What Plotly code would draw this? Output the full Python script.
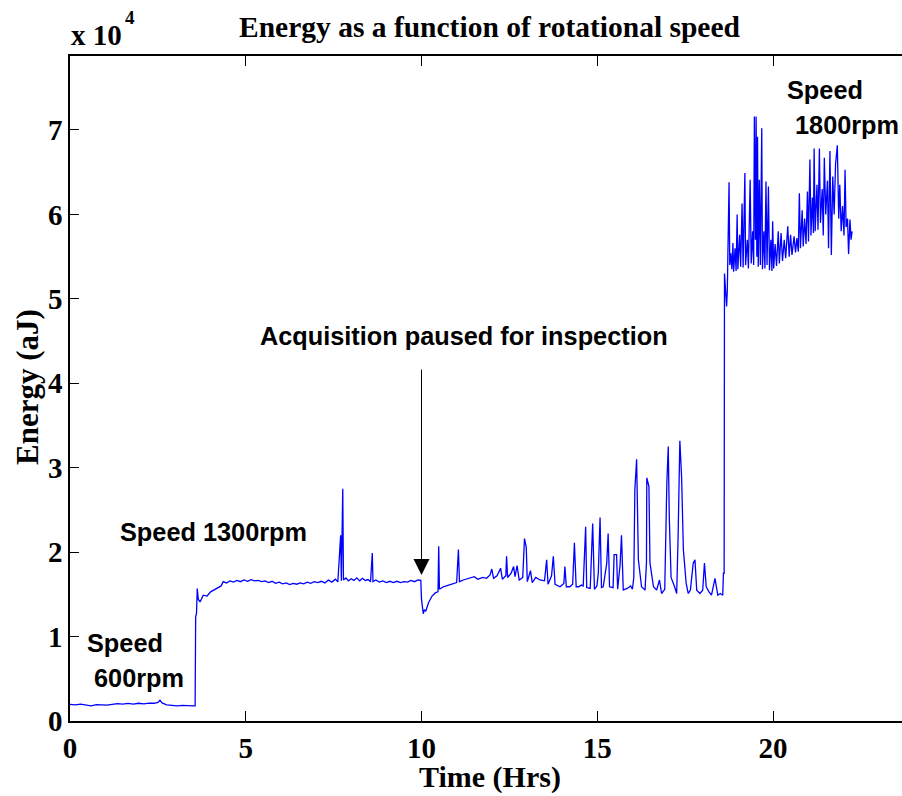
import plotly.graph_objects as go

# ---------------- data ----------------
time_hrs = [
    # 600 rpm
    0.0, 0.15, 0.3, 0.45, 0.6, 0.75, 0.9, 1.05, 1.2, 1.35, 1.5, 1.65, 1.8, 1.95,
    2.1, 2.25, 2.4, 2.5, 2.56, 2.62, 2.75, 2.9, 3.05, 3.2, 3.35, 3.5, 3.56,
    # 1300 rpm
    3.575, 3.6, 3.62, 3.65, 3.7, 3.79, 3.9, 4.0, 4.17, 4.3,
    4.36, 4.45, 4.55, 4.65, 4.75, 4.85, 4.95, 5.05, 5.15, 5.25, 5.35, 5.45, 5.55,
    5.65, 5.75, 5.85, 5.95, 6.05, 6.15, 6.25, 6.35, 6.45, 6.55, 6.65, 6.75, 6.85,
    6.95, 7.05, 7.15, 7.25, 7.35, 7.45, 7.55, 7.62,
    7.7, 7.72, 7.76, 7.78, 7.85,
    7.92, 8.0, 8.08, 8.16, 8.24, 8.32, 8.4, 8.48, 8.55, 8.6, 8.62, 8.7, 8.8, 8.9,
    9.0, 9.1, 9.2, 9.3, 9.4, 9.5, 9.6, 9.7, 9.8, 9.9, 9.98,
    # after inspection pause
    10.0, 10.05, 10.08, 10.12, 10.2, 10.3, 10.4, 10.47, 10.49, 10.51, 10.62,
    10.75, 10.9, 11.0, 11.05, 11.08, 11.19, 11.35, 11.5, 11.6, 11.75, 11.85,
    11.95, 12.0, 12.05, 12.15, 12.25, 12.3, 12.4, 12.42, 12.45, 12.55, 12.62,
    12.66, 12.72, 12.78, 12.88, 12.93, 12.98, 13.01, 13.1, 13.15, 13.25, 13.37,
    13.5, 13.56, 13.6, 13.7, 13.75, 13.8, 13.94, 14.05, 14.08, 14.12, 14.22,
    14.3, 14.35, 14.4, 14.47, 14.55, 14.6, 14.67, 14.7, 14.8, 14.87, 14.92,
    14.99, 15.03, 15.08, 15.12, 15.17, 15.27, 15.31, 15.35, 15.45, 15.48, 15.55,
    15.58, 15.65, 15.69, 15.74, 15.85, 15.95, 16.0, 16.04, 16.07, 16.12, 16.17,
    16.26, 16.36, 16.4, 16.41, 16.47, 16.5, 16.6, 16.69, 16.77, 16.83, 16.92,
    16.98, 17.02, 17.05, 17.1, 17.2, 17.26, 17.3, 17.35, 17.4, 17.45, 17.53,
    17.59, 17.65, 17.73, 17.78, 17.83, 17.92, 18.0, 18.05, 18.1, 18.18, 18.25,
    18.35, 18.43, 18.5, 18.57, 18.59, 18.61,
    # 1800 rpm
    18.62, 18.65, 18.68, 18.7, 18.72, 18.75, 18.77, 18.8, 18.83, 18.86, 18.88,
    18.92, 18.95, 18.98, 19.0, 19.05, 19.08, 19.12, 19.15, 19.2, 19.22, 19.27,
    19.3, 19.35, 19.38, 19.42, 19.45, 19.47, 19.5, 19.52, 19.54, 19.56, 19.58,
    19.61, 19.64, 19.68, 19.7, 19.74, 19.77, 19.8, 19.83, 19.87, 19.9, 19.94,
    19.97, 19.99, 20.02, 20.06, 20.1, 20.15, 20.18, 20.23, 20.27, 20.32, 20.36,
    20.42, 20.46, 20.5, 20.54, 20.6, 20.64, 20.68, 20.72, 20.75, 20.78, 20.83,
    20.86, 20.9, 20.94, 20.98, 21.01, 21.05, 21.08, 21.12, 21.15, 21.17, 21.2,
    21.25, 21.28, 21.32, 21.35, 21.4, 21.43, 21.46, 21.5, 21.55, 21.58, 21.62,
    21.66, 21.7, 21.74, 21.78, 21.83, 21.87, 21.9, 21.94, 21.98, 22.02, 22.05,
    22.08, 22.12, 22.15, 22.19, 22.22, 22.25,
]

energy_aj = [
    # 600 rpm
    1980, 1900, 2000, 1880, 1800, 1950, 1920, 1870, 1960, 2050, 2000, 2080, 2010, 2100,
    2040, 2120, 2100, 2200, 2450, 2150, 1900, 1820, 1800, 1850, 1780, 1790, 1790,
    # 1300 rpm
    12300, 12800, 15700, 14400, 14100, 14900, 14800, 15300, 15700, 16000,
    16500, 16350, 16600, 16450, 16650, 16500, 16700, 16550, 16750, 16600, 16650, 16500, 16600,
    16400, 16550, 16300, 16450, 16250, 16350, 16150, 16300, 16200, 16350, 16250, 16450, 16300,
    16500, 16400, 16550, 16350, 16700, 16450, 16800, 16500,
    22000, 16600, 27500, 16700, 16950,
    16600, 16850, 16650, 16950, 16600, 16900, 16650, 16750, 16500, 19900, 16500, 16700, 16450, 16600,
    16400, 16550, 16400, 16550, 16400, 16500, 16450, 16650, 16500, 16700, 16650,
    # after inspection pause
    14400, 12700, 13200, 13000, 14000, 14800, 15200, 15300, 20700, 15600, 15900,
    16100, 16300, 16400, 20300, 16500, 16700, 16900, 17100, 16800, 17000, 16900,
    17300, 18000, 16900, 17200, 18100, 16800, 17200, 19500, 17000, 17500, 18300,
    17100, 18400, 16700, 17000, 21600, 20600, 16500, 17800, 16400, 17000, 16700,
    16600, 19100, 16200, 17200, 19500, 16200, 15900, 16300, 18300, 15900, 15900,
    16200, 21100, 15900, 15900, 16100, 16000, 23000, 15800, 15700, 23400, 15600,
    16000, 17500, 24100, 15800, 15900, 18700, 22200, 15900, 15800, 19700, 19700,
    15600, 18500, 22000, 15500, 15700, 16000, 15600, 17000, 27400, 31000, 19100,
    15900, 15500, 18700, 28800, 27800, 18700, 15900, 15500, 16700, 15100, 15600,
    28200, 32500, 24000, 17000, 15900, 15100, 21800, 33200, 28900, 20300, 16300,
    15100, 15500, 18700, 19100, 15500, 15100, 15500, 18700, 15900, 15300, 14900,
    16900, 14900, 15100, 14900, 17500, 17500,
    # 1800 rpm
    53000, 50300, 49100, 51000, 54600, 63800, 54000, 55400, 53500, 56600, 53200,
    56000, 53300, 60000, 53500, 57600, 53800, 61300, 53700, 64900, 54000, 57000,
    53600, 64100, 54200, 58000, 54000, 71600, 57000, 71600, 55000, 69200, 53800,
    64100, 54000, 70200, 53500, 58000, 53600, 63900, 54000, 63300, 53400, 57000,
    53300, 59200, 53600, 56500, 53900, 58000, 54200, 57800, 54500, 57000, 54800,
    58600, 55000, 57600, 55200, 57400, 55500, 57200, 55600, 62500, 56000, 60500,
    56200, 59500, 56500, 62700, 56800, 66500, 57500, 62000, 57800, 67800, 58000,
    63500, 58200, 67800, 59000, 63000, 57500, 66700, 60000, 64000, 56000, 67500,
    55200, 64500, 60000, 66000, 68200, 59500, 63500, 58000, 61000, 57500, 65300,
    58500, 59500, 55300, 59400, 57000, 58000,
]
assert len(time_hrs) == len(energy_aj)

x_ticks = [0, 5, 10, 15, 20]
y_ticks = [0, 10000, 20000, 30000, 40000, 50000, 60000, 70000]
y_tick_text = ["0", "1", "2", "3", "4", "5", "6", "7"]

title_text = "Energy as a function of rotational speed"
x_title = "Time (Hrs)"
y_title = "Energy (aJ)"

# ---------------- layout helpers (pixel placement) ----------------
W, H = 902, 796
L, R, T, B = 70, 0, 56, 75
PW, PH = W - L - R, H - T - B


def px(xr):
    return (xr - L) / PW


def py(yr):
    return (H - B - yr) / PH


SERIF = "Liberation Serif, Times New Roman, serif"
SANS = "Liberation Sans, Arial, sans-serif"

fig = go.Figure()
fig.add_trace(go.Scatter(
    x=time_hrs, y=energy_aj, mode="lines",
    line=dict(color="#0000FF", width=1.3),
    showlegend=False, hoverinfo="skip",
))

anns = []
anns.append(dict(text="<b>" + title_text + "</b>", x=px(490), y=py(27),
                 font=dict(family=SERIF, size=29.5, color="black")))
anns.append(dict(text="<b>x 10</b>", x=px(69), y=py(35), xanchor="left",
                 font=dict(family=SERIF, size=29, color="black")))
anns.append(dict(text="<b>4</b>", x=px(130), y=py(17),
                 font=dict(family=SERIF, size=19, color="black")))
anns.append(dict(text="<b>" + x_title + "</b>", x=px(490), y=py(777),
                 font=dict(family=SERIF, size=30, color="black")))
anns.append(dict(text="<b>" + y_title + "</b>", x=px(27), y=py(387), textangle=-90,
                 font=dict(family=SERIF, size=31, color="black")))
for txt, xl, yc in [("Speed", 85, 643), ("600rpm", 92, 678),
                    ("Speed 1300rpm", 118, 532),
                    ("Speed", 785, 90), ("1800rpm", 793, 125),
                    ("Acquisition paused for inspection", 258, 336)]:
    anns.append(dict(text="<b>" + txt + "</b>", x=px(xl), y=py(yc), xanchor="left",
                     font=dict(family=SANS, size=25.3, color="black")))

for a in anns:
    a.setdefault("xanchor", "center")
    a.update(xref="paper", yref="paper", yanchor="middle", showarrow=False)

anns.append(dict(x=10, y=17300, ax=10, ay=41800, xref="x", yref="y", axref="x", ayref="y",
                 text="", showarrow=True, arrowhead=2, arrowsize=3.2, arrowwidth=1,
                 arrowcolor="black"))

fig.update_layout(
    width=W, height=H,
    margin=dict(l=L, r=R, t=T, b=B, pad=0),
    paper_bgcolor="white", plot_bgcolor="white",
    annotations=anns,
    hovermode=False,
    xaxis=dict(range=[0, PW / 35.15], tickvals=x_ticks, ticktext=["<b>%d</b>" % v for v in x_ticks],
               ticks="inside", ticklen=10, tickwidth=1, tickcolor="black",
               showline=True, linecolor="black", linewidth=1.5, mirror="ticks",
               showgrid=False, zeroline=False,
               tickfont=dict(family=SERIF, size=29, color="black")),
    yaxis=dict(range=[0, PH / 84.43 * 10000], tickvals=y_ticks,
               ticktext=["<b>" + t + "</b>" for t in y_tick_text],
               ticks="inside", ticklen=9, tickwidth=1, tickcolor="black",
               showline=True, linecolor="black", linewidth=1.5,
               showgrid=False, zeroline=False,
               tickfont=dict(family=SERIF, size=29, color="black")),
)

# remove the browser's default 8px body margin so the figure sits at the page origin
fig.write_html("out.html", config={"displayModeBar": False},
               post_script="document.body.style.margin='0px';")
